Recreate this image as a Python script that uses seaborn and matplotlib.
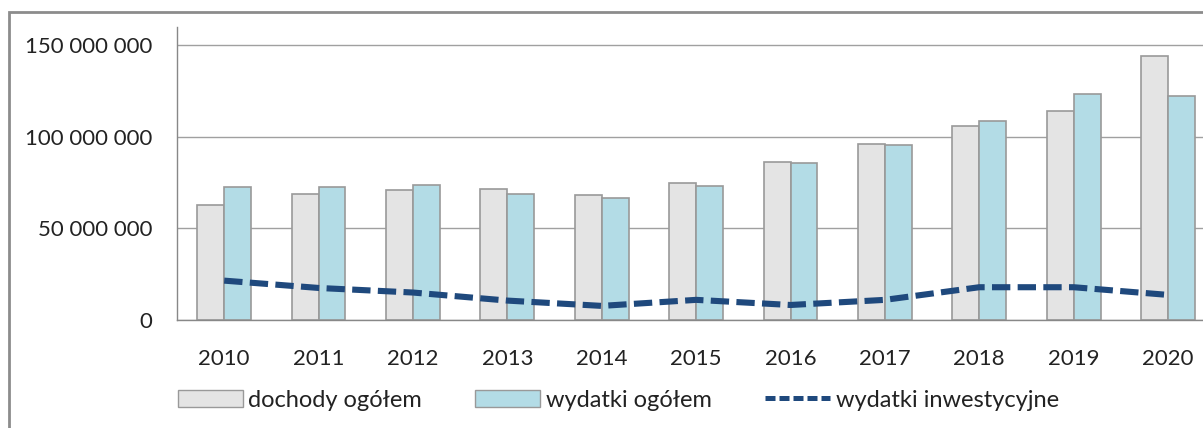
import pandas as pd
import numpy as np
import matplotlib
matplotlib.use("Agg")
import matplotlib.pyplot as plt
import seaborn as sns
from matplotlib.ticker import FuncFormatter
from matplotlib.patches import Rectangle, Patch
from matplotlib.lines import Line2D

years = ['2010', '2011', '2012', '2013', '2014', '2015', '2016', '2017', '2018', '2019', '2020']
dochody = [63.0, 69.0, 70.9, 71.7, 68.3, 75.0, 86.5, 96.0, 106.0, 114.0, 143.9]
wydatki = [72.8, 72.8, 73.8, 69.0, 66.8, 73.0, 85.8, 95.3, 108.6, 123.4, 122.3]
inwestycyjne = [21.5, 17.5, 15.0, 10.6, 7.7, 11.0, 8.2, 11.0, 17.9, 17.9, 13.7]

labels = ['dochody ogółem', 'wydatki ogółem', 'wydatki inwestycyjne']
gray = '#e4e4e4'
blue = '#b3dce6'
navy = '#1f497d'

sns.set_style('white')
plt.rcParams['font.family'] = ['Lato', 'DejaVu Sans']

df = pd.DataFrame({
    'rok': years * 2,
    'kwota': [v * 1e6 for v in dochody + wydatki],
    'seria': [labels[0]] * len(years) + [labels[1]] * len(years),
})

fig = plt.figure(figsize=(12.03, 4.28), dpi=100)
ax = fig.add_axes([177 / 1203, 108 / 428, 1 - 177 / 1203, (320 - 27) / 428])

sns.barplot(data=df, x='rok', y='kwota', hue='seria', palette=[gray, blue],
            saturation=1, width=0.57, edgecolor='#999999', linewidth=1.2,
            ax=ax, legend=False)
ax.plot(np.arange(len(years)), [v * 1e6 for v in inwestycyjne], color=navy,
        linewidth=4.4, dashes=(3.0, 1.2), zorder=5)

ax.set_xlim(-0.5, 10.37)
ax.set_ylim(0, 160e6)
ax.set_yticks([0, 50e6, 100e6, 150e6])
ax.yaxis.set_major_formatter(FuncFormatter(lambda v, p: f"{int(v):,}".replace(',', ' ')))
ax.grid(axis='y', color='#a0a0a0', linewidth=1)
ax.set_axisbelow(True)
ax.set_xlabel('')
ax.set_ylabel('')
ax.tick_params(axis='y', length=0, pad=18, labelsize=16, labelcolor='#222222')
ax.tick_params(axis='x', length=0, pad=21, labelsize=16, labelcolor='#222222')
for s in ['top', 'right']:
    ax.spines[s].set_visible(False)
for s in ['left', 'bottom']:
    ax.spines[s].set_color('#888888')
    ax.spines[s].set_linewidth(1)

handles = [Patch(facecolor=gray, edgecolor='#999999', label=labels[0]),
           Patch(facecolor=blue, edgecolor='#999999', label=labels[1]),
           Line2D([], [], color=navy, linewidth=3.6, dashes=(2.0, 0.8), label=labels[2])]
fig.legend(handles=handles, loc='center', bbox_to_anchor=(0.514, 0.065), ncol=3,
           frameon=False, fontsize=17, handlelength=2.75, handleheight=0.68,
           handletextpad=0.25, columnspacing=2.25, labelcolor='#222222')

fig.patches.append(Rectangle((9 / 1203, -0.1), 1.2, (428 - 12) / 428 + 0.1,
                             transform=fig.transFigure, fill=False,
                             edgecolor='#8c8c8c', linewidth=2, zorder=0))

fig.savefig('out.png', dpi=100)
